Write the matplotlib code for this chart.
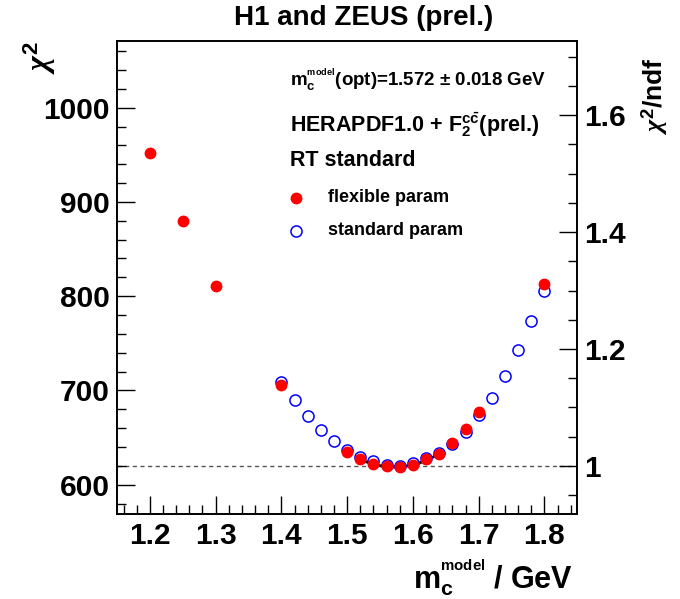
import numpy as np
import matplotlib
matplotlib.use("Agg")
import matplotlib.pyplot as plt
from matplotlib.ticker import MultipleLocator

plt.rcParams['font.family'] = ['Liberation Sans', 'DejaVu Sans']
plt.rcParams['font.weight'] = 'bold'
plt.rcParams['mathtext.fontset'] = 'custom'
plt.rcParams['mathtext.rm'] = 'Liberation Sans:bold'
plt.rcParams['mathtext.bf'] = 'Liberation Sans:bold'
plt.rcParams['mathtext.it'] = 'Liberation Serif:italic'

# flexible param (filled red)
mc_flex = [1.20, 1.25, 1.30, 1.40, 1.50, 1.52, 1.54, 1.56, 1.58, 1.60,
           1.62, 1.64, 1.66, 1.68, 1.70, 1.80]
chi2_flex = [952.3, 879.8, 810.6, 705.5, 634.4, 627.3, 621.9, 619.4, 618.7, 621.2,
             626.8, 632.6, 644.4, 658.6, 676.7, 812.5]

# standard param (open blue)
mc_std = [1.40, 1.42, 1.44, 1.46, 1.48, 1.50, 1.52, 1.54, 1.56, 1.58, 1.60,
          1.62, 1.64, 1.66, 1.68, 1.70, 1.72, 1.74, 1.76, 1.78, 1.80]
chi2_std = [708.7, 689.5, 672.8, 658.2, 646.5, 637.2, 629.7, 624.7, 621.2, 619.7, 622.6,
            628.3, 633.6, 643.3, 655.7, 673.5, 692.4, 715.0, 742.5, 774.0, 806.0]

# parabola fit result
mc_opt = 1.572
mc_err = 0.018
chi2_min = 618.7
fit_range = (1.52, 1.64)
ndf = 620

fig = plt.figure(figsize=(6.8, 5.99), dpi=100)
ax = fig.add_axes([0.172, 0.142, 0.677, 0.790])

ax.axhline(ndf, color='#555555', ls=(0, (3, 2.5)), lw=1, zorder=1)

mfit = np.linspace(fit_range[0], fit_range[1], 100)
ax.plot(mfit, chi2_min + ((mfit - mc_opt) / mc_err) ** 2, color='black', lw=2, zorder=2)

ax.plot(mc_std, chi2_std, 'o', ms=8, mfc='none', mec='blue', mew=1.1, zorder=3)
ax.plot(mc_flex, chi2_flex, 'o', ms=7.5, mfc='red', mec='red', zorder=4)

ax.set_xlim(1.15, 1.85)
ax.set_ylim(569, 1071)
ax.xaxis.set_major_locator(MultipleLocator(0.1))
ax.xaxis.set_minor_locator(MultipleLocator(0.02))
ax.yaxis.set_major_locator(MultipleLocator(100))
ax.yaxis.set_minor_locator(MultipleLocator(20))
ax.tick_params(which='both', direction='in', top=False, right=False, labelsize=21.5, width=1)
ax.tick_params(which='major', length=13, pad=5)
ax.tick_params(which='minor', length=6.5)
ax.tick_params(axis='x', pad=6)
for lab in ax.get_xticklabels() + ax.get_yticklabels():
    lab.set_fontweight('bold')

ax2 = ax.twinx()
ax2.set_ylim(569 / ndf, 1071 / ndf)
ax2.yaxis.set_major_locator(MultipleLocator(0.2))
ax2.yaxis.set_minor_locator(MultipleLocator(0.05))
ax2.yaxis.set_major_formatter(plt.FuncFormatter(lambda v, p: f'{v:g}'))
ax2.tick_params(which='both', direction='in', labelsize=21.5, width=1)
ax2.tick_params(which='major', length=13, pad=5)
ax2.tick_params(which='minor', length=6.5)

for a in (ax, ax2):
    for s in a.spines.values():
        s.set_linewidth(1.2)

fig.text(0.535, 0.970, 'H1 and ZEUS (prel.)', ha='center', va='center', fontsize=20, fontweight='bold')

fig.text(0.058, 0.905, r'$\chi^{\mathbf{2}}$', rotation=90, ha='center', va='center', fontsize=23)
fig.text(0.962, 0.840, r'$\chi^{\mathbf{2}}\mathbf{/ndf}$', rotation=90, ha='center', va='center', fontsize=19)
fig.text(0.843, 0.035, r'$\mathbf{m}_{\mathbf{c}}^{{}^{\mathbf{model}}}\mathbf{\ /\ GeV}$',
         ha='right', va='center', fontsize=22)

ax.text(0.375, 0.917, r'$\mathbf{m}_{\mathbf{c}}^{{}^{\mathbf{model}}}$' + f'(opt)={mc_opt:.3f} ± {mc_err:.3f} GeV',
        transform=ax.transAxes, ha='left', va='center', fontsize=13.5, fontweight='bold')
ax.text(0.375, 0.822, r'HERAPDF1.0 + $\mathbf{F}_{\mathbf{2}}^{\mathbf{c}\bar{\mathbf{c}}}$(prel.)',
        transform=ax.transAxes, ha='left', va='center', fontsize=15.5, fontweight='bold')
ax.text(0.375, 0.746, 'RT standard', transform=ax.transAxes, ha='left', va='center',
        fontsize=15.5, fontweight='bold')

ax.plot([0.389], [0.668], 'o', ms=7.5, mfc='red', mec='red', transform=ax.transAxes, clip_on=False)
ax.text(0.458, 0.668, 'flexible param', transform=ax.transAxes, ha='left', va='center',
        fontsize=13, fontweight='bold')
ax.plot([0.389], [0.598], 'o', ms=8, mfc='none', mec='blue', mew=1.1, transform=ax.transAxes, clip_on=False)
ax.text(0.458, 0.598, 'standard param', transform=ax.transAxes, ha='left', va='center',
        fontsize=13, fontweight='bold')

fig.savefig('out.png', dpi=100)
